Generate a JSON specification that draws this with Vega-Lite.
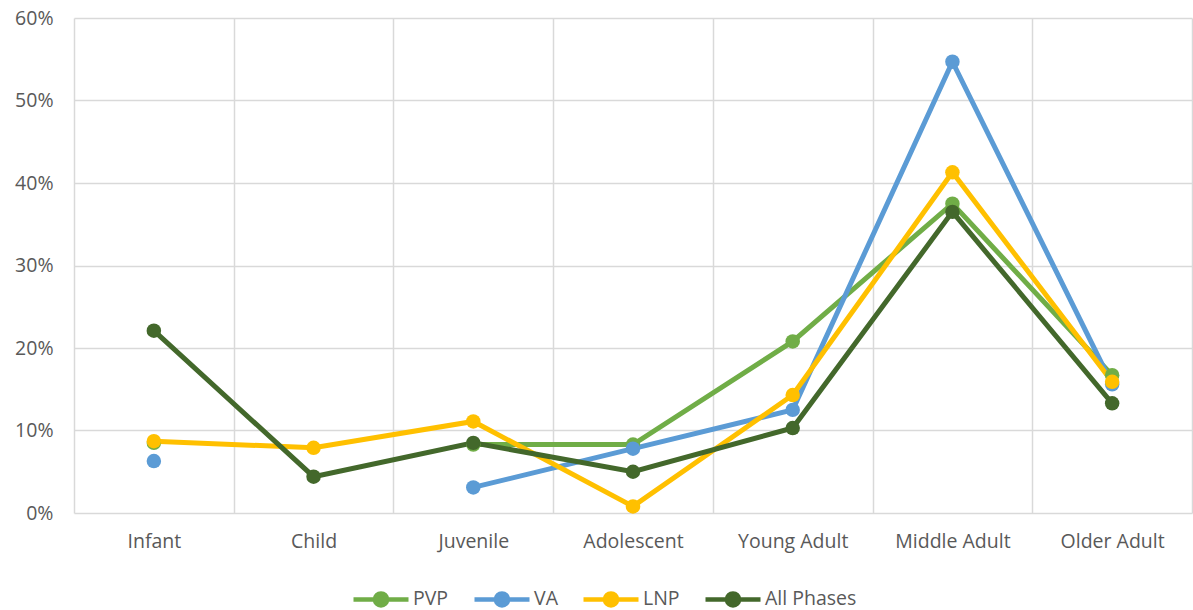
{
  "$schema": "https://vega.github.io/schema/vega-lite/v6.json",
  "width": 1118,
  "height": 495,
  "autosize": {"type": "none"},
  "padding": {"left": 74, "top": 18, "right": 1, "bottom": 97},
  "background": "white",
  "config": {
    "view": {"stroke": null},
    "font": "Open Sans",
    "axis": {"labelFont": "Open Sans", "labelFontSize": 19.5, "labelColor": "#595959", "gridColor": "#d9d9d9", "gridWidth": 1.5, "domain": false, "ticks": false, "labelOverlap": false},
    "legend": {"labelFont": "Open Sans", "labelFontSize": 19.5, "labelColor": "#595959"}
  },
  "data": {
    "values": [
      {"stage": "Infant", "series": "PVP", "value": 0.085},
      {"stage": "Child", "series": "PVP", "value": null},
      {"stage": "Juvenile", "series": "PVP", "value": 0.083},
      {"stage": "Adolescent", "series": "PVP", "value": 0.083},
      {"stage": "Young Adult", "series": "PVP", "value": 0.208},
      {"stage": "Middle Adult", "series": "PVP", "value": 0.375},
      {"stage": "Older Adult", "series": "PVP", "value": 0.167},
      {"stage": "Infant", "series": "VA", "value": 0.063},
      {"stage": "Child", "series": "VA", "value": null},
      {"stage": "Juvenile", "series": "VA", "value": 0.031},
      {"stage": "Adolescent", "series": "VA", "value": 0.078},
      {"stage": "Young Adult", "series": "VA", "value": 0.125},
      {"stage": "Middle Adult", "series": "VA", "value": 0.547},
      {"stage": "Older Adult", "series": "VA", "value": 0.156},
      {"stage": "Infant", "series": "LNP", "value": 0.087},
      {"stage": "Child", "series": "LNP", "value": 0.079},
      {"stage": "Juvenile", "series": "LNP", "value": 0.111},
      {"stage": "Adolescent", "series": "LNP", "value": 0.008},
      {"stage": "Young Adult", "series": "LNP", "value": 0.143},
      {"stage": "Middle Adult", "series": "LNP", "value": 0.413},
      {"stage": "Older Adult", "series": "LNP", "value": 0.159},
      {"stage": "Infant", "series": "All Phases", "value": 0.221},
      {"stage": "Child", "series": "All Phases", "value": 0.044},
      {"stage": "Juvenile", "series": "All Phases", "value": 0.085},
      {"stage": "Adolescent", "series": "All Phases", "value": 0.050},
      {"stage": "Young Adult", "series": "All Phases", "value": 0.103},
      {"stage": "Middle Adult", "series": "All Phases", "value": 0.365},
      {"stage": "Older Adult", "series": "All Phases", "value": 0.133}
    ]
  },
  "encoding": {
    "x": {
      "field": "stage", "type": "nominal",
      "sort": ["Infant", "Child", "Juvenile", "Adolescent", "Young Adult", "Middle Adult", "Older Adult"],
      "scale": {"type": "band", "paddingInner": 0, "paddingOuter": 0},
      "axis": {"title": null, "labelAngle": 0, "tickBand": "extent", "grid": true, "labelPadding": 19}
    },
    "y": {
      "field": "value", "type": "quantitative",
      "scale": {"domain": [0, 0.6], "nice": false},
      "axis": {"title": null, "format": ".0%", "values": [0, 0.1, 0.2, 0.3, 0.4, 0.5, 0.6], "labelPadding": 21}
    },
    "color": {
      "field": "series", "type": "nominal",
      "sort": ["PVP", "VA", "LNP", "All Phases"],
      "scale": {"domain": ["PVP", "VA", "LNP", "All Phases"], "range": ["#70AD47", "#5B9BD5", "#FFC000", "#43682B"]},
      "legend": {
        "title": null, "orient": "none", "direction": "horizontal", "legendX": 277, "legendY": 551,
        "symbolType": "M-1,0H1M0.22,0A0.22,0.22 0 1,1 -0.22,0A0.22,0.22 0 1,1 0.22,0Z",
        "symbolSize": 3025, "symbolStrokeWidth": 4.5, "labelOffset": 2, "columnPadding": 16
      }
    }
  },
  "layer": [
    {"mark": {"type": "line", "strokeWidth": 5}},
    {"mark": {"type": "circle", "size": 210, "opacity": 1}}
  ]
}
